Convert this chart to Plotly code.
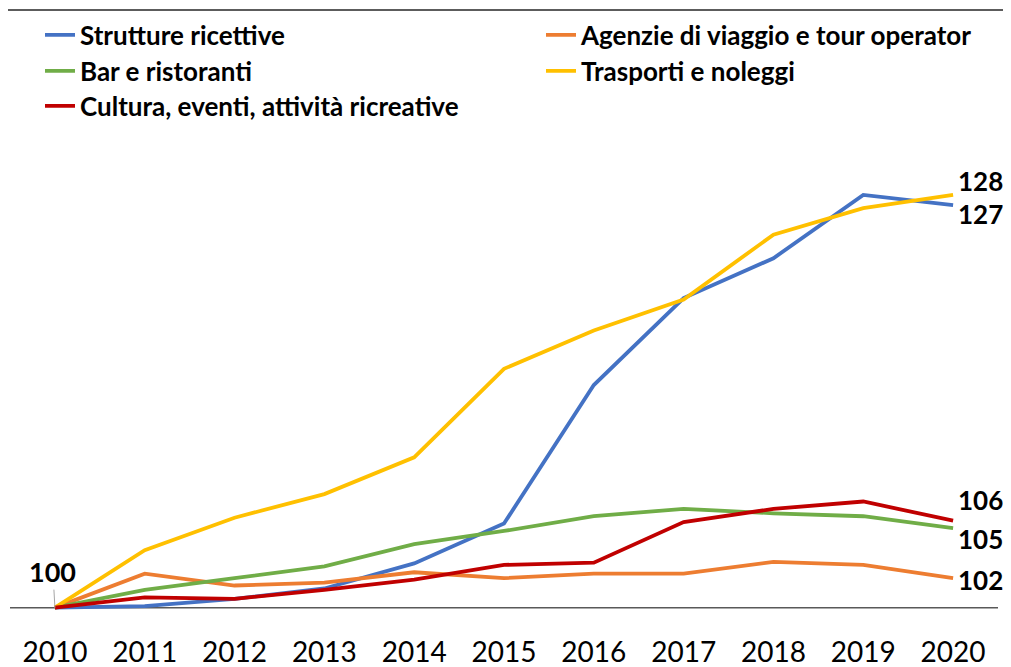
import plotly.graph_objects as go

years = [2010, 2011, 2012, 2013, 2014, 2015, 2016, 2017, 2018, 2019, 2020]
tick_labels = [str(y) for y in years]

strutture = [100, 100.1, 100.6, 101.3, 103.0, 105.7, 115.1, 121.0, 123.7, 128.0, 127.3]
agenzie = [100, 102.3, 101.5, 101.7, 102.4, 102.0, 102.3, 102.3, 103.1, 102.9, 102.0]
bar = [100, 101.2, 102.0, 102.8, 104.3, 105.2, 106.2, 106.7, 106.4, 106.2, 105.4]
trasporti = [100, 103.9, 106.1, 107.7, 110.2, 116.2, 118.8, 120.9, 125.3, 127.1, 128.0]
cultura = [100, 100.7, 100.6, 101.2, 101.9, 102.9, 103.05, 105.8, 106.7, 107.2, 105.9]

names = ["Strutture ricettive", "Agenzie di viaggio e tour operator", "Bar e ristoranti",
         "Trasporti e noleggi", "Cultura, eventi, attività ricreative"]
series = [strutture, agenzie, bar, trasporti, cultura]
colors = ["#4472C4", "#ED7D31", "#70AD47", "#FFC000", "#C00000"]
end_labels = ["127", "102", "105", "128", "106"]
end_shift = [-9, -2, -11, 14, 21]

# page has an 8px body margin; the figure is sized to fill the rest of the window
OFF = 8
W, H = 1011 - OFF, 667 - OFF
# plot area in page pixels: left 10, right 998, top 158, bottom 615
L, R, T, B = 10 - OFF, 1011 - 998, 158 - OFF, 667 - 615
pw, ph = W - L - R, H - T - B

def px_x(p):  # page pixel -> paper x
    return (p - OFF - L) / pw

def px_y(p):  # page pixel -> paper y
    return (H - B - (p - OFF)) / ph

FONT = "Lato"
legend_pos = [(40, 35), (541, 35), (40, 71), (541, 71), (40, 106)]

fig = go.Figure()
for i, (n, s, c) in enumerate(zip(names, series, colors)):
    lg = "legend" if i == 0 else f"legend{i+1}"
    fig.add_trace(go.Scatter(x=years, y=s, name=n, mode="lines",
                             line=dict(color=c, width=3.8), legend=lg))

layout_legends = {}
for i, (lx, ly) in enumerate(legend_pos):
    key = "legend" if i == 0 else f"legend{i+1}"
    layout_legends[key] = dict(x=px_x(lx), y=px_y(ly), xanchor="left", yanchor="middle",
                               xref="paper", yref="paper",
                               font=dict(family=FONT, size=26, color="#000000", weight="bold"),
                               bgcolor="rgba(0,0,0,0)", borderwidth=0, itemwidth=30)

annotations = []
for s, lab, sh in zip(series, end_labels, end_shift):
    annotations.append(dict(x=years[-1], y=s[-1], text=f"<b>{lab}</b>", showarrow=False,
                            xanchor="left", yanchor="middle", xshift=3, yshift=sh,
                            font=dict(family=FONT, size=26, color="#000000")))
annotations.append(dict(x=years[0], y=strutture[0], text="<b>100</b>", showarrow=True,
                        arrowhead=0, arrowwidth=1, arrowcolor="#A6A6A6", ax=-2, ay=-36,
                        font=dict(family=FONT, size=27, color="#000000")))

shapes = [
    dict(type="line", xref="paper", yref="y", x0=0, x1=1, y0=100, y1=100,
         line=dict(color="#595959", width=1.5), layer="below"),
    dict(type="line", xref="paper", yref="paper", x0=px_x(0), x1=px_x(1011), y0=px_y(10), y1=px_y(10),
         line=dict(color="#262626", width=1.5)),
]

fig.update_layout(
    width=W, height=H,
    margin=dict(l=L, r=R, t=T, b=B, autoexpand=False),
    paper_bgcolor="white", plot_bgcolor="white",
    showlegend=True,
    xaxis=dict(range=[2009.5, 2020.5], tickmode="array", tickvals=years, ticktext=tick_labels,
               showgrid=False, zeroline=False, showline=False, ticks="",
               ticklabelstandoff=18,
               tickfont=dict(family=FONT, size=28, color="#000000")),
    yaxis=dict(range=[99.5, 130.5], visible=False),
    annotations=annotations,
    shapes=shapes,
    **layout_legends,
)

fig.write_html("out.html")
